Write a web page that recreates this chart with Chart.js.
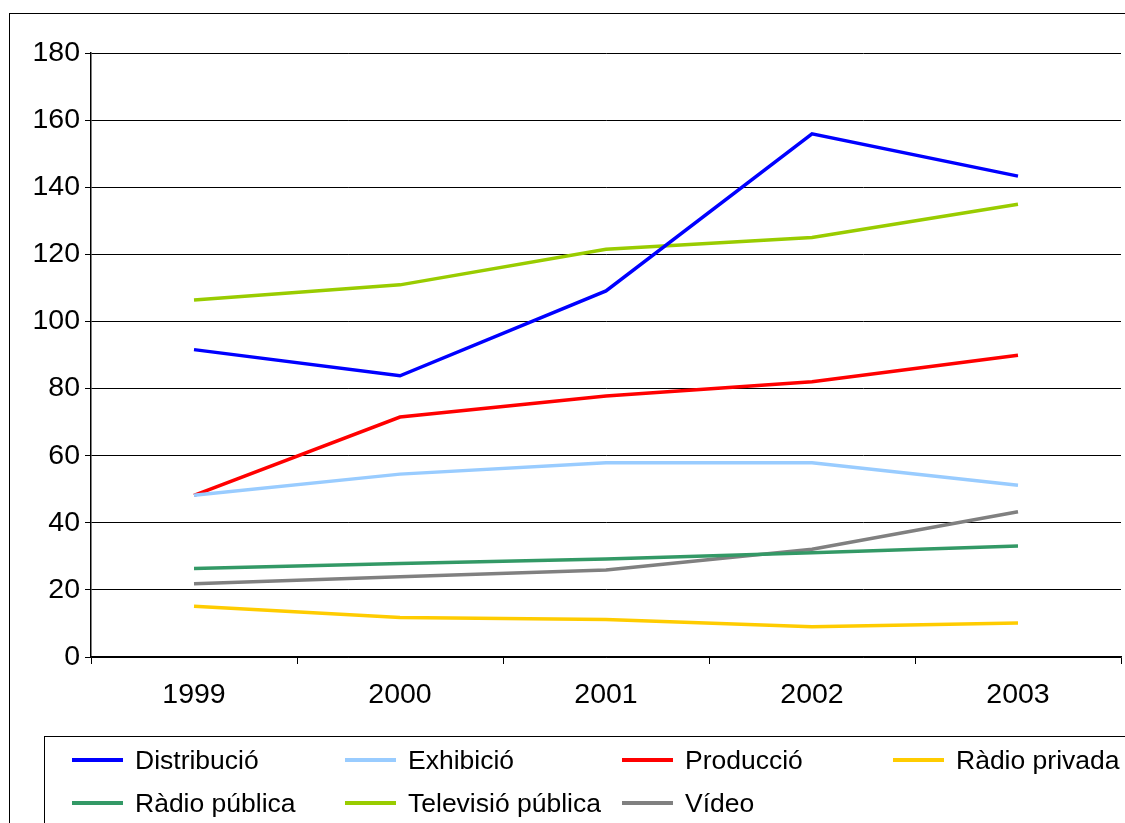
<!DOCTYPE html>
<html>
<head>
<meta charset="utf-8">
<script src="https://cdn.jsdelivr.net/npm/chart.js@4/dist/chart.umd.min.js"></script>
<style>
    html, body { margin: 0; padding: 0; background: #fff; }
    body { width: 1125px; height: 823px; position: relative; overflow: hidden; font-family: "Liberation Sans", Arial, Helvetica, sans-serif; }
    #frame { position: absolute; left: 9px; top: 13px; width: 1200px; height: 900px; border: 1.5px solid #000; box-sizing: border-box; }
    #chart { position: absolute; left: 0; top: 0; }
    #legend { position: absolute; left: 44px; top: 736px; width: 1200px; height: 200px; border: 1.5px solid #000; box-sizing: border-box; }
    .item { position: absolute; height: 30px; display: flex; align-items: center; white-space: nowrap; font-size: 26.5px; color: #000; }
    .swatch { width: 51px; height: 4px; margin-right: 12px; }
</style>
</head>
<body>
<div id="frame"></div>
<canvas id="chart" width="1125" height="823"></canvas>
<div id="legend"></div>
<script>
const years = ['1999', '2000', '2001', '2002', '2003'];
const seriesNames = ['Distribució', 'Exhibició', 'Producció', 'Ràdio privada', 'Ràdio pública', 'Televisió pública', 'Vídeo'];
const distribucio = [91.6, 83.8, 109.1, 155.9, 143.3];
const exhibicio = [48.2, 54.5, 57.9, 57.9, 51.2];
const produccio = [48.2, 71.5, 77.8, 82.0, 89.9];
const radioPrivada = [15.1, 11.8, 11.2, 9.0, 10.1];
const radioPublica = [26.4, 27.9, 29.2, 31.1, 33.1];
const televisioPublica = [106.4, 110.9, 121.5, 125.0, 134.9];
const video = [21.8, 23.9, 25.9, 32.1, 43.3];
const yTicks = [0, 20, 40, 60, 80, 100, 120, 140, 160, 180];

const colors = ['#0000FF', '#99CCFF', '#FF0000', '#FFCC00', '#339966', '#99CC00', '#808080'];
const values = [distribucio, exhibicio, produccio, radioPrivada, radioPublica, televisioPublica, video];

const font = { family: '"Liberation Sans", Arial, Helvetica, sans-serif', size: 28.5 };

const datasets = seriesNames.map((name, i) => ({
    label: name,
    data: values[i],
    borderColor: colors[i],
    backgroundColor: colors[i],
    borderWidth: 3.5,
    pointRadius: 0,
    tension: 0,
    fill: false
}));

new Chart(document.getElementById('chart').getContext('2d'), {
    type: 'line',
    data: { labels: years, datasets: datasets },
    options: {
        responsive: false,
        animation: false,
        layout: { padding: { top: 53, right: 4, left: 0, bottom: 0 } },
        plugins: {
            legend: { display: false },
            tooltip: { enabled: false }
        },
        scales: {
            x: {
                offset: true,
                grid: { display: true, drawOnChartArea: false, drawTicks: true, tickLength: 7, offset: true, color: '#000', lineWidth: 1 },
                border: { display: true, color: '#000', width: 1.5 },
                ticks: { color: '#000', font: font, padding: 14, maxRotation: 0 },
                afterFit: function(scale) { scale.height = 823 - 657; }
            },
            y: {
                min: 0,
                max: 180,
                afterBuildTicks: function(scale) { scale.ticks = yTicks.map(v => ({ value: v })); },
                grid: { color: '#000', lineWidth: 1, tickLength: 6, drawTicks: true },
                border: { display: true, color: '#000', width: 1.5 },
                ticks: { color: '#000', font: font, padding: 5 },
                afterFit: function(scale) { scale.width = 91; }
            }
        }
    }
});

// legend built from the series arrays
const legend = document.getElementById('legend');
const colX = [27, 300, 577, 848];
const rowY = [8, 51];
seriesNames.forEach((name, i) => {
    const item = document.createElement('div');
    item.className = 'item';
    item.style.left = colX[i % 4] + 'px';
    item.style.top = rowY[Math.floor(i / 4)] + 'px';
    const sw = document.createElement('span');
    sw.className = 'swatch';
    sw.style.background = colors[i];
    const tx = document.createElement('span');
    tx.textContent = name;
    item.appendChild(sw);
    item.appendChild(tx);
    legend.appendChild(item);
});
</script>
</body>
</html>
